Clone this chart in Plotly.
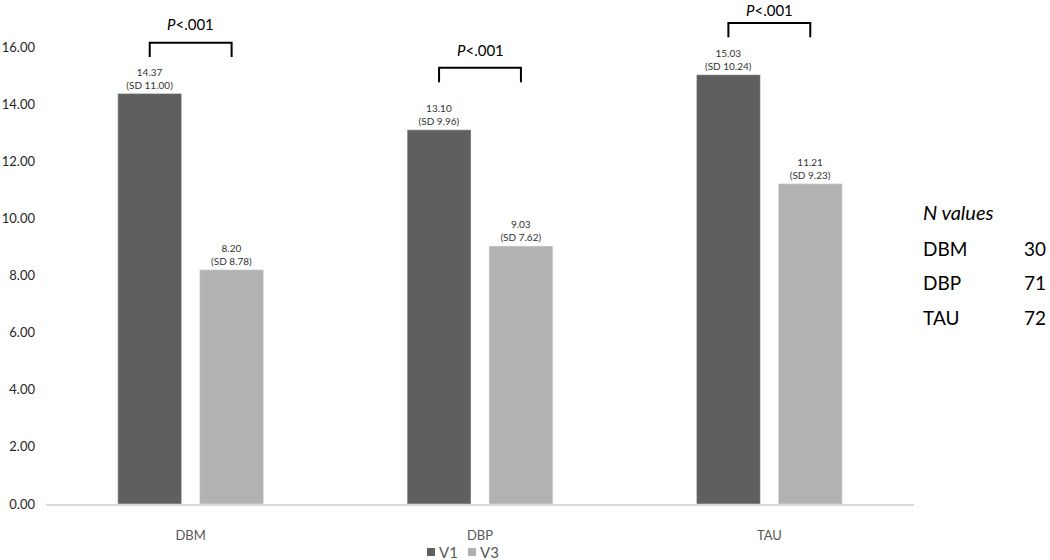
import plotly.graph_objects as go

# ---- data ----
categories = ["DBM", "DBP", "TAU"]
series_names = ["V1", "V3"]
v1_means = [14.37, 13.10, 15.03]
v1_sds = [11.00, 9.96, 10.24]
v3_means = [8.20, 9.03, 11.21]
v3_sds = [8.78, 7.62, 9.23]
n_values = [30, 71, 72]
p_labels = ["<i>P</i>&lt;.001", "<i>P</i>&lt;.001", "<i>P</i>&lt;.001"]
y_ticks = [0, 2, 4, 6, 8, 10, 12, 14, 16]

# ---- style ----
FONT = "Lato, Carlito, Calibri, sans-serif"
C_V1 = "#5f5f5f"
C_V3 = "#b2b2b2"
bracket_offsets = [1.78, 2.17, 1.81]   # bracket top above V1 bar (data units)
p_gaps = [0.67, 0.63, 0.46]            # p-label centre above bracket top
leg_len = 0.5
bargap = 0.434
bargroupgap = 0.22

W, H = 1050, 560
ML, MR, MT, MB = 46, 136, 10, 56
plot_w = W - ML - MR
plot_h = H - MT - MB
px_per_unit = (504 - 47) / 16.0
ymax = plot_h / px_per_unit


def lbl(m, s):
    return f"{m:.2f}<br>(SD {s:.2f})"


def px_x(px):
    return (px - ML) / plot_w


def px_y(py):
    return (MT + plot_h - py) / plot_h


fig = go.Figure()
for name, means, sds, col in [(series_names[0], v1_means, v1_sds, C_V1),
                              (series_names[1], v3_means, v3_sds, C_V3)]:
    fig.add_trace(go.Bar(
        x=categories, y=means, name=name, marker_color=col,
        text=[lbl(m, s) for m, s in zip(means, sds)],
        textposition="outside", textfont=dict(size=10, color="#333333", family=FONT),
        cliponaxis=False, hoverinfo="skip", showlegend=False,
    ))

# brackets + p labels
slot = (1 - bargap) / 2
shapes = []
annotations = []
for i, (cat, m1, off, pg, pl) in enumerate(zip(categories, v1_means, bracket_offsets, p_gaps, p_labels)):
    x0 = i - slot / 2
    x1 = i + slot / 2
    top = m1 + off
    bot = top - leg_len
    shapes.append(dict(
        type="path", xref="x", yref="y",
        path=f"M {x0},{bot} L {x0},{top} L {x1},{top} L {x1},{bot}",
        line=dict(color="black", width=2),
    ))
    annotations.append(dict(
        x=i, y=(top + pg) / ymax, xref="x", yref="paper", text=pl, showarrow=False,
        yanchor="middle", font=dict(size=15, color="black", family=FONT),
    ))

# legend (drawn below the axis, Excel style)
legend_x = [427, 468]
for name, col, lx in zip(series_names, [C_V1, C_V3], legend_x):
    shapes.append(dict(
        type="rect", xref="paper", yref="paper",
        x0=px_x(lx), x1=px_x(lx + 8), y0=px_y(556), y1=px_y(548),
        fillcolor=col, line=dict(width=0),
    ))
    annotations.append(dict(
        x=px_x(lx + 10), y=px_y(552), xref="paper", yref="paper", text=name,
        showarrow=False, xanchor="left", yanchor="middle",
        font=dict(size=15, color="#595959", family=FONT),
    ))

# N values panel
annotations.append(dict(
    x=px_x(921), y=px_y(212), xref="paper", yref="paper", text="<i>N values</i>",
    showarrow=False, xanchor="left", yanchor="middle",
    font=dict(size=20, color="black", family=FONT),
))
for cat, n, py in zip(categories, n_values, [248, 283, 317]):
    annotations.append(dict(
        x=px_x(921), y=px_y(py), xref="paper", yref="paper", text=cat,
        showarrow=False, xanchor="left", yanchor="middle",
        font=dict(size=19, color="black", family=FONT),
    ))
    annotations.append(dict(
        x=px_x(1048), y=px_y(py), xref="paper", yref="paper", text=str(n),
        showarrow=False, xanchor="right", yanchor="middle",
        font=dict(size=19, color="black", family=FONT),
    ))

fig.update_layout(
    width=W, height=H,
    margin=dict(l=ML, r=MR, t=MT, b=MB, pad=0, autoexpand=False),
    paper_bgcolor="white", plot_bgcolor="white",
    barmode="group", bargap=bargap, bargroupgap=bargroupgap,
    font=dict(family=FONT, color="#404040"),
    showlegend=False,
    shapes=shapes,
    annotations=annotations,
    xaxis=dict(
        showgrid=False, showline=True, linecolor="#d9d9d9", linewidth=2,
        ticks="", tickfont=dict(size=13, color="#595959", family=FONT),
        ticklabelstandoff=18, automargin=False,
    ),
    yaxis=dict(
        range=[0, ymax], showgrid=False, zeroline=False, showline=False,
        tickvals=y_ticks, ticktext=[f"{v:.2f}" for v in y_ticks],
        tickfont=dict(size=13, color="#262626", family=FONT),
        ticks="", ticklabelstandoff=10, automargin=False,
    ),
)

fig.write_html(
    "out.html",
    config={"displayModeBar": False},
    post_script="document.body.style.margin='0';document.body.style.overflow='hidden';",
)
